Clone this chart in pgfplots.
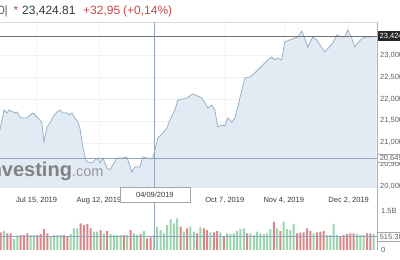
\documentclass[border=0pt]{standalone}
\usepackage{fontspec}
\setmainfont{Liberation Sans}
\usepackage{pgfplots}
\usepackage{pgfplotstable}
\pgfplotsset{compat=1.18}
\definecolor{pline}{RGB}{150,172,196}
\definecolor{pfill}{RGB}{226,235,244}
\definecolor{cross}{RGB}{145,166,188}
\definecolor{vgreen}{RGB}{155,212,175}
\definecolor{vred}{RGB}{216,134,134}
\definecolor{hred}{RGB}{200,72,72}
\definecolor{txt}{RGB}{55,55,55}
\definecolor{lbl}{RGB}{95,95,95}
\definecolor{wm}{RGB}{130,130,130}
\newcommand{\lblfont}{\fontsize{7.5}{9}\selectfont}

\pgfplotstableread{
k price
-0.2 21291
1.0 21747
1.9 21679
2.5 21747
4.3 21679
4.9 21702
5.8 21588
6.7 21565
7.9 21565
8.8 21633
9.7 21679
10.9 21588
11.8 21519
12.4 21451
13.0 21018
13.9 21360
14.8 21451
15.7 21588
16.9 21702
17.8 21747
18.7 21679
19.9 21679
20.8 21633
21.4 21679
22.3 21565
23.2 21474
23.8 21337
24.7 20881
25.6 20608
26.2 20563
27.4 20540
28.3 20608
29.2 20654
29.8 20540
30.7 20654
31.9 20426
32.8 20380
33.7 20494
34.9 20654
35.8 20654
36.7 20654
37.9 20677
38.2 20608
39.4 20335
40.3 20449
41.8 20449
42.7 20677
43.9 20654
44.8 20631
45.7 20654
46.3 20836
47.2 21109
48.7 21223
49.9 21337
50.8 21519
52.3 21747
53.2 21975
54.7 21998
55.9 22020
56.8 22066
57.7 22112
59.2 22066
60.4 22020
61.3 21907
62.2 21793
63.4 21861
64.3 21747
65.2 21360
66.4 21406
67.3 21383
68.2 21565
69.4 21474
70.3 21565
71.2 21815
72.4 22203
73.3 22476
74.8 22499
76.3 22590
77.8 22704
78.7 22772
80.2 22886
81.4 22955
82.3 22886
83.2 22932
84.4 22886
85.3 23296
86.8 23342
88.3 23387
89.2 23410
90.4 23547
91.3 23387
92.2 23182
93.7 23410
94.9 23342
97.3 23068
99.7 23273
100.9 23456
102.4 23410
103.3 23410
104.2 23569
105.4 23387
106.3 23182
107.2 23273
108.7 23387
109.9 23410
111.4 23410
112.9 23424
}\pricetab

\pgfplotstableread{
k v
1 .72
4 .42
5 .55
9 .57
10 .57
15 .53
16 .57
17 .57
18 .57
21 .60
22 .82
23 .82
28 .70
29 .70
31 .63
33 .60
34 .57
35 .57
36 .57
38 .57
40 .63
41 .57
43 .72
46 .57
47 .89
48 .76
49 .63
50 .95
51 1.17
52 1.01
53 1.20
55 .70
57 .89
58 .70
60 .86
63 .67
66 .67
68 .63
69 .60
70 .63
71 .72
72 .79
73 .82
75 .63
76 .57
77 .70
78 .63
79 .60
80 .63
81 .79
83 .82
85 1.08
86 .79
87 .76
88 .99
94 .63
98 .57
99 .57
100 .99
101 .57
107 .60
108 .57
109 .57
112 .60
}\greentab

\pgfplotstableread{
k v
0 .67
2 .63
3 .63
6 .57
7 .57
8 .63
11 .57
12 .60
13 .79
14 .63
19 .57
20 .53
24 1.01
25 .95
26 .98
27 .82
30 .76
32 .72
37 .57
39 .76
42 .60
44 .44
45 .48
54 .89
56 .82
59 .63
61 .82
62 .76
64 .67
65 .72
67 .51
74 .63
82 1.08
84 .72
89 .63
90 .66
91 .67
92 .82
93 .73
95 .67
96 .70
97 .73
102 .51
103 .57
104 .60
105 .63
106 .63
110 .63
111 .63
}\redtab

\begin{document}
\begin{tikzpicture}[x=1pt,y=1pt]
\useasboundingbox (0pt,0pt) rectangle (400pt,260pt);
\clip (0pt,0pt) rectangle (400pt,260pt);

% header
\node[anchor=base east, inner sep=0pt, text=lbl, font=\fontsize{12}{14}\selectfont] at (8pt,245.5pt) {0|};
\node[anchor=base west, inner sep=0pt, text=hred, font=\fontsize{12}{14}\selectfont] at (13.5pt,245.5pt) {*};
\node[anchor=base west, inner sep=0pt, text=txt, font=\fontsize{12}{14}\selectfont] at (22pt,245.5pt) {23,424.81};
\node[anchor=base west, inner sep=0pt, text=hred, font=\fontsize{12}{14}\selectfont] at (83pt,245.5pt) {+32,95};
\node[anchor=base west, inner sep=0pt, text=hred, font=\fontsize{12}{14}\selectfont] at (123pt,245.5pt) {(+0,14\%)};

% price panel
\begin{axis}[
  at={(0pt,72pt)}, anchor=south west, scale only axis,
  width=377pt, height=166pt,
  xmin=-0.2, xmax=113, ymin=19970, ymax=23752,
  clip mode=individual,
  axis line style={draw=none},
  major tick length=0pt,
  xtick={10.8,29.5,67.3,85,104.5},
  xticklabels={{Jul 15, 2019},{Aug 12, 2019},{Oct 7, 2019},{Nov 4, 2019},{Dec 2, 2019}},
  xticklabel style={font=\lblfont, text=txt, inner sep=0pt, anchor=north, yshift=-9pt},
  ytick={20000,20500,...,23000},
  yticklabel pos=right,
  yticklabel style={font=\lblfont, text=lbl, inner sep=0pt, anchor=west, xshift=3pt},
  scaled y ticks=false,
  /pgf/number format/1000 sep={,},
  /pgf/number format/assume math mode=true,
  xmajorgrids, ymajorgrids,
  major grid style={black!5},
]
\addplot[draw=none, fill=pfill] table[x=k,y=price] {\pricetab} \closedcycle;
\addplot[pline, line width=0.75pt] table[x=k,y=price] {\pricetab};
\node[anchor=base west, inner sep=0pt, xshift=-16pt, text=wm] at (axis cs:-0.2,20228)
  {\fontsize{20}{22}\selectfont\bfseries Investing\fontsize{14.5}{16}\selectfont\mdseries\color{black!40}.com};
\draw[black!15, line width=0.6pt] (axis cs:-0.2,23752) -- (axis cs:113,23752);
\draw[black!55, line width=0.8pt] (axis cs:-0.2,23424) -- (axis cs:113,23424);
\draw[cross, line width=0.7pt] (axis cs:-0.2,20649) -- (axis cs:113,20649);
\draw[cross, line width=0.7pt] (axis cs:46,19970) -- (axis cs:46,23752);
\node[anchor=west, fill=black!85, text=white, font=\lblfont, inner xsep=2.5pt, minimum height=10pt, inner ysep=0pt] at (axis cs:113,23424) {23,424};
\node[anchor=west, fill=white, draw=black!35, line width=0.5pt, text=lbl, font=\lblfont, inner xsep=2.5pt, minimum height=8.5pt, inner ysep=0pt] at (axis cs:113,20649) {20,649};
\end{axis}

% volume panel
\begin{axis}[
  at={(0pt,10pt)}, anchor=south west, scale only axis,
  width=377pt, height=46pt,
  xmin=-0.2, xmax=113, ymin=0, ymax=1.749,
  clip mode=individual,
  ybar, bar width=2pt, bar shift=0pt,
  axis line style={draw=none},
  major tick length=0pt,
  xtick=\empty,
  ytick={0,1.5}, yticklabels={0,1.5B},
  yticklabel pos=right,
  yticklabel style={font=\lblfont, text=lbl, inner sep=0pt, anchor=west, xshift=4pt},
]
\addplot[fill=vgreen, draw=none] table[x=k,y=v] {\greentab};
\addplot[fill=vred, draw=none] table[x=k,y=v] {\redtab};
\draw[cross, line width=0.6pt] (axis cs:-0.2,0.5153) -- (axis cs:113,0.5153);
\draw[cross, line width=0.7pt] (axis cs:46,0) -- (axis cs:46,2.4);
\draw[black!30, line width=0.5pt] (axis cs:113,0) -- (axis cs:113,8.67);
\node[anchor=west, fill=white, draw=black!35, line width=0.5pt, text=lbl, font=\lblfont, inner xsep=2.5pt, minimum height=9pt, inner ysep=0pt] at (axis cs:113,0.5153) {515.3M};
\node[anchor=north, fill=white, draw=black!35, line width=0.5pt, text=txt, font=\lblfont, minimum width=70pt, minimum height=15pt] at (axis cs:46.3,2.395) {04/09/2019};
\end{axis}
\end{tikzpicture}
\end{document}
